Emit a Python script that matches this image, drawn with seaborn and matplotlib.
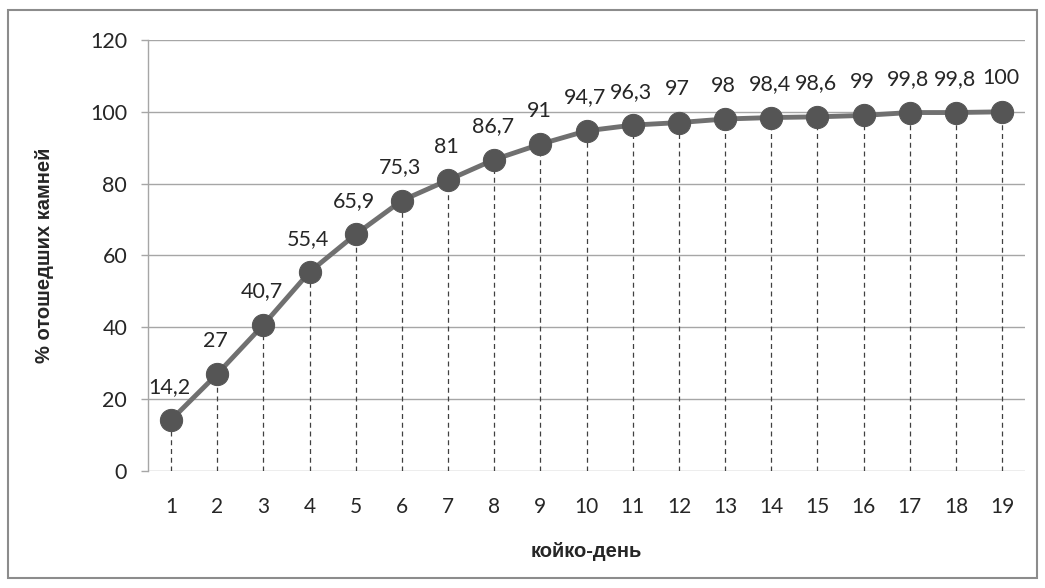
import matplotlib
matplotlib.use("Agg")
import matplotlib.pyplot as plt
import seaborn as sns
import pandas as pd
from matplotlib.patches import Rectangle

days = list(range(1, 20))
percent = [14.2, 27, 40.7, 55.4, 65.9, 75.3, 81, 86.7, 91, 94.7, 96.3, 97, 98, 98.4, 98.6, 99, 99.8, 99.8, 100]
labels = ["14,2", "27", "40,7", "55,4", "65,9", "75,3", "81", "86,7", "91", "94,7", "96,3", "97",
          "98", "98,4", "98,6", "99", "99,8", "99,8", "100"]
yticks = [0, 20, 40, 60, 80, 100, 120]

sns.set_theme(style="white")
plt.rcParams['font.family'] = ['Lato', 'DejaVu Sans']

df = pd.DataFrame({"day": days, "pct": percent})

fig = plt.figure(figsize=(10.45, 5.88), dpi=100)
ax = fig.add_axes([0.1416, 0.199, 0.981 - 0.1416, 0.932 - 0.199])

for y in yticks:
    ax.axhline(y, color="#a6a6a6", lw=1.0, zorder=0)

ax.vlines(df["day"], 0, df["pct"], colors="#404040", linestyles=(0, (4, 3)), lw=0.9, zorder=1)

sns.lineplot(data=df, x="day", y="pct", ax=ax, color="#707070", lw=3.5, marker="o",
             markersize=16, markerfacecolor="#555555", markeredgecolor="#555555", zorder=3)

for d, p, t in zip(days, percent, labels):
    ax.annotate(t, (d, p), xytext=(-1, 24), textcoords="offset points", ha="center",
                va="center", fontsize=15.5, color="#262626")

ax.set_xlim(0.5, 19.5)
ax.set_ylim(0, 120)
ax.set_xticks(days)
ax.set_xticklabels([str(d) for d in days], fontsize=15, color="#262626")
ax.set_yticks(yticks)
ax.set_yticklabels([str(y) for y in yticks], fontsize=15.5, color="#262626")
ax.tick_params(axis="x", length=0, pad=19)
ax.tick_params(axis="y", length=5, color="#a6a6a6", width=1, pad=10, direction="out", left=True)
for s in ["top", "right", "bottom"]:
    ax.spines[s].set_visible(False)
ax.spines["left"].set_color("#a6a6a6")
ax.spines["left"].set_linewidth(1.0)

ax.set_xlabel("койко-день", fontsize=14.5, fontweight="bold", family=["Liberation Sans", "DejaVu Sans"], labelpad=18)
ax.set_ylabel("% отошедших камней", fontsize=14.5, fontweight="bold", family=["Liberation Sans", "DejaVu Sans"], labelpad=26)

fig.patches.append(Rectangle((8 / 1045, 1 - 578 / 588), (1037 - 8) / 1045, (578 - 10) / 588,
                             transform=fig.transFigure, fill=False, edgecolor="#8c8c8c", lw=1.5))

fig.savefig("out.png", dpi=100)
